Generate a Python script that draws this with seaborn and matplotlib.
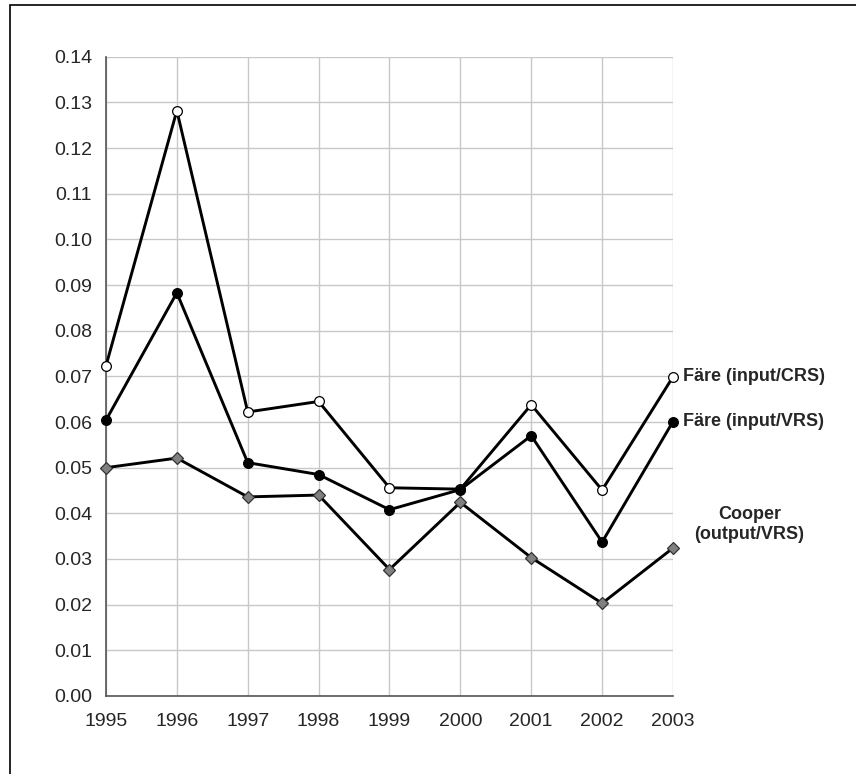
import matplotlib
matplotlib.use("Agg")
import numpy as np
import pandas as pd
import seaborn as sns
import matplotlib.pyplot as plt
from matplotlib.patches import Rectangle

# Donnees
years = [1995, 1996, 1997, 1998, 1999, 2000, 2001, 2002, 2003]
fare_crs = [0.0723, 0.1282, 0.0622, 0.0645, 0.0456, 0.0453, 0.0638, 0.0451, 0.0699]
fare_vrs = [0.0604, 0.0883, 0.0511, 0.0485, 0.0408, 0.0452, 0.0570, 0.0337, 0.0601]
cooper = [0.0500, 0.0521, 0.0436, 0.0440, 0.0277, 0.0424, 0.0303, 0.0203, 0.0324]
labels = ["Färe (input/CRS)", "Färe (input/VRS)", "Cooper\n(output/VRS)"]
y_ticks = [i / 100 for i in range(15)]

sns.set_style("white")
plt.rcParams['font.family'] = ['Liberation Sans', 'DejaVu Sans']

fig = plt.figure(figsize=(8.56, 7.74), dpi=100)
ax = fig.add_axes([0.1238, 0.1008, 0.6624, 0.8259])

df = pd.DataFrame({"year": years, "crs": fare_crs, "vrs": fare_vrs, "cooper": cooper})

styles = [
    ("crs", dict(marker="o", markerfacecolor="white", markeredgecolor="black", markersize=7)),
    ("vrs", dict(marker="o", markerfacecolor="black", markeredgecolor="black", markersize=7)),
    ("cooper", dict(marker="D", markerfacecolor="#808080", markeredgecolor="#333333", markersize=6)),
]
for col, kw in styles:
    sns.lineplot(data=df, x="year", y=col, ax=ax, color="black", linewidth=2.1,
                 markeredgewidth=0.9, zorder=3, clip_on=False, **kw)

ax.set_xlim(years[0], years[-1])
ax.set_ylim(0, 0.14)
ax.set_xticks(years)
ax.set_yticks(y_ticks)
ax.set_yticklabels([f"{v:.2f}" for v in y_ticks])
ax.set_xlabel("")
ax.set_ylabel("")
ax.grid(True, color="#c8c8c8", linewidth=1.0)
for side in ["top", "right"]:
    ax.spines[side].set_visible(False)
for side in ["left", "bottom"]:
    ax.spines[side].set_color("#555555")
    ax.spines[side].set_linewidth(1.2)
ax.tick_params(axis="both", direction="out", length=5, width=1, color="#555555",
               labelsize=14, pad=5)
ax.tick_params(axis="x", pad=7)

# Etiquettes des series a droite
ax.annotate(labels[0], xy=(years[-1], fare_crs[-1]), xytext=(7, 0), textcoords="offset points",
            va="center", ha="left", fontsize=13, fontweight="bold", annotation_clip=False)
ax.annotate(labels[1], xy=(years[-1], fare_vrs[-1]), xytext=(7, 0), textcoords="offset points",
            va="center", ha="left", fontsize=13, fontweight="bold", annotation_clip=False)
ax.annotate(labels[2], xy=(years[-1], cooper[-1]), xytext=(55, 17), textcoords="offset points",
            va="center", ha="center", fontsize=13, fontweight="bold", annotation_clip=False,
            linespacing=1.25)

# Cadre exterieur
fig.patches.append(Rectangle((10 / 856, -0.01), 1.0, 1 - 5 / 774 + 0.01, transform=fig.transFigure,
                             fill=False, edgecolor="black", linewidth=1.2))

fig.savefig("out.png", dpi=100)
